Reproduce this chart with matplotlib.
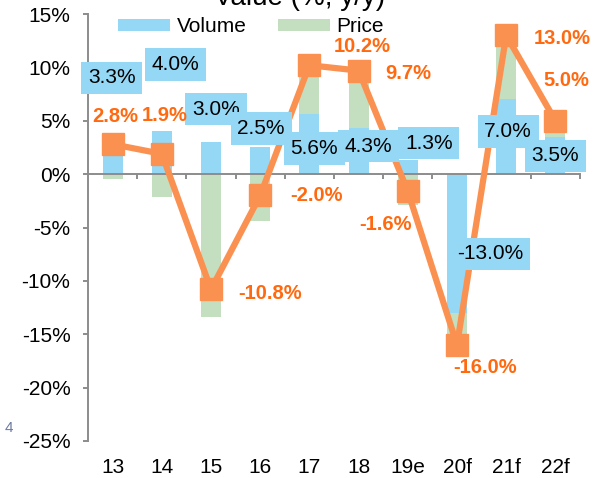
import numpy as np
import matplotlib
matplotlib.use('Agg')
import matplotlib.pyplot as plt
from matplotlib.patches import Patch

plt.rcParams['font.family'] = ['Liberation Sans', 'DejaVu Sans']

years = ['13', '14', '15', '16', '17', '18', '19e', '20f', '21f', '22f']
volume = [3.3, 4.0, 3.0, 2.5, 5.6, 4.3, 1.3, -13.0, 7.0, 3.5]
price = [-0.5, -2.1, -13.4, -4.4, 4.4, 5.2, -2.9, -3.4, 5.6, 1.4]
value = [2.8, 1.9, -10.8, -2.0, 10.2, 9.7, -1.6, -16.0, 13.0, 5.0]

# hand placed label offsets (pixels), as in the original
vol_off = [(-1, 61), (14, 67), (5, 33), (1, 19), (5, -34), (10, -18), (21, 17), (33, 59), (2, -32), (0, -19)]
val_off = [(3, 28), (3, 38), (59, -4), (56, 0), (53, 19), (50, -3), (-22, -33), (28, -23), (56, -3), (11, 40)]

blue = '#94D8F6'
green = '#C3DFC0'
orange = '#FB9150'
label_orange = '#FF6A10'
grey = '#8C8C8C'

fig = plt.figure(figsize=(6.05, 4.78), dpi=100)
ax = fig.add_axes([88/605, 1-441/478, (580-88)/605, (441-14)/478])

x = np.arange(len(years))
vol = np.array(volume)
pr = np.array(price)
# stack price on volume when same sign, else from zero
pr_bottom = np.where(np.sign(vol) == np.sign(pr), vol, 0)

ax.bar(x, vol, width=0.41, color=blue, zorder=1)
ax.bar(x, pr, bottom=pr_bottom, width=0.41, color=green, zorder=1)
ax.plot(x, value, color=orange, lw=4.5, marker='s', ms=16, zorder=3)

for i in range(len(years)):
    ax.annotate('%.1f%%' % volume[i], (x[i], volume[i]), xytext=vol_off[i],
                textcoords='offset pixels', ha='center', va='center', fontsize=15,
                color='black', zorder=4,
                bbox=dict(boxstyle='square,pad=0.32', fc=blue, ec='none'))
    ax.annotate('%.1f%%' % value[i], (x[i], value[i]), xytext=val_off[i],
                textcoords='offset pixels', ha='center', va='center', fontsize=14.5,
                fontweight='bold', color=label_orange, zorder=5)

ax.set_xlim(-0.5, 9.5)
ax.set_ylim(-25, 15)
ax.set_yticks(np.arange(-25, 16, 5))
ax.set_yticklabels(['%d%%' % v for v in np.arange(-25, 16, 5)], fontsize=15)
ax.tick_params(axis='y', length=3.6, width=1.4, color=grey, pad=9)

for s in ['top', 'right']:
    ax.spines[s].set_visible(False)
ax.spines['left'].set_color(grey)
ax.spines['left'].set_linewidth(1.4)
ax.spines['bottom'].set_position(('data', 0))
ax.spines['bottom'].set_color(grey)
ax.spines['bottom'].set_linewidth(1.4)
ax.set_xticks([])
ax.set_xticks(np.arange(0.5, 10, 1), minor=True)
ax.tick_params(axis='x', which='minor', length=3.6, width=1.4, color=grey, direction='out')

sec = ax.secondary_xaxis('bottom')
sec.set_xticks(x, labels=years)
sec.tick_params(length=0, pad=12, labelsize=15)
sec.spines['bottom'].set_visible(False)

fig.legend([Patch(facecolor=blue), Patch(facecolor=green)], ['Volume', 'Price'],
           loc='center', bbox_to_anchor=(251/605, 1-27/478), ncol=2, frameon=False,
           fontsize=15, handlelength=2.5, handleheight=0.55, handletextpad=0.3,
           columnspacing=1.5)

fig.text(300/605, 1-5/478, 'Value (%, y/y)', ha='center', va='baseline', fontsize=20)
fig.text(5/605, 1-428/478, '4', color='#6A7BA0', fontsize=11, va='center')

fig.savefig('out.png', dpi=100)
